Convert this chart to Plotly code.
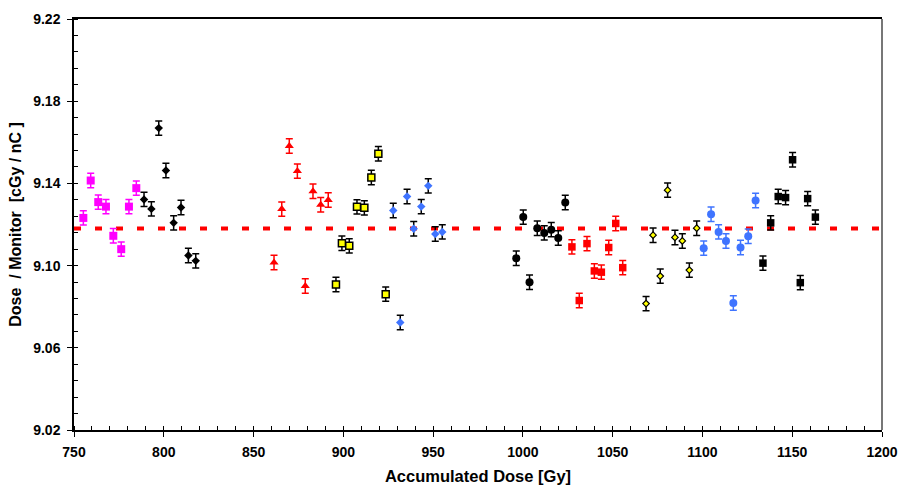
import plotly.graph_objects as go

# Accumulated dose [Gy] and dose/monitor ratio [cGy/nC] for each measurement run
mag_sq_x = [755.2, 759.3, 763.5, 767.8, 771.9, 776.3, 780.6, 784.7]
mag_sq_y = [9.1232, 9.1414, 9.1309, 9.1287, 9.1145, 9.1080, 9.1287, 9.1377]

blk_dia_x = [789.0, 793.1, 797.2, 801.2, 805.5, 809.6, 813.7, 817.8]
blk_dia_y = [9.1322, 9.1276, 9.1669, 9.1463, 9.1208, 9.1283, 9.1049, 9.1023]

red_tri_x = [861.4, 865.7, 869.9, 874.4, 878.8, 883.1, 887.4, 891.6]
red_tri_y = [9.1015, 9.1275, 9.1582, 9.1460, 9.0901, 9.1362, 9.1296, 9.1319]

yel_sq_x = [895.9, 899.2, 903.3, 907.6, 911.7, 915.6, 919.5, 923.6]
yel_sq_y = [9.0908, 9.1109, 9.1096, 9.1286, 9.1281, 9.1429, 9.1544, 9.0861]

blu_dia_x = [927.8, 931.7, 935.5, 939.2, 943.4, 947.3, 951.2, 955.1]
blu_dia_y = [9.1268, 9.0723, 9.1336, 9.1179, 9.1287, 9.1388, 9.1154, 9.1164]

blk_cir_x = [996.3, 1000.2, 1003.7, 1008.0, 1011.9, 1015.8, 1019.7, 1023.6]
blk_cir_y = [9.1036, 9.1236, 9.0919, 9.1182, 9.1159, 9.1175, 9.1134, 9.1307]

red_sq_x = [1027.3, 1031.4, 1035.7, 1039.8, 1043.7, 1047.8, 1051.7, 1055.6]
red_sq_y = [9.1091, 9.0830, 9.1107, 9.0974, 9.0968, 9.1088, 9.1205, 9.0990]

yel_dia_x = [1068.6, 1072.5, 1076.5, 1080.6, 1084.7, 1088.8, 1092.7, 1096.8]
yel_dia_y = [9.0815, 9.1148, 9.0949, 9.1367, 9.1137, 9.1120, 9.0978, 9.1182]

blu_cir_x = [1100.7, 1104.8, 1109.0, 1113.1, 1117.2, 1121.2, 1125.5, 1129.6]
blu_cir_y = [9.1085, 9.1250, 9.1164, 9.1120, 9.0818, 9.1088, 9.1143, 9.1317]

blk_sq_x = [1133.7, 1138.0, 1142.2, 1146.3, 1150.2, 1154.5, 1158.6, 1162.9]
blk_sq_y = [9.1012, 9.1208, 9.1336, 9.1331, 9.1515, 9.0917, 9.1326, 9.1236]

# Uncertainty of each ratio
ratio_err = [0.0035] * 8

# Mean dose/monitor ratio
mean_ratio = 9.118
mean_x = [750, 1200]

BLUE = "#3f74ff"

series = [
    (mag_sq_x, mag_sq_y, dict(symbol="square", size=8, color="#ff00ff"), "#ff00ff"),
    (blk_dia_x, blk_dia_y, dict(symbol="diamond", size=6.5, color="black"), "black"),
    (red_tri_x, red_tri_y, dict(symbol="triangle-up", size=8, color="#ff0000"), "#ff0000"),
    (yel_sq_x, yel_sq_y, dict(symbol="square", size=7,
                              color="#ffff00", line=dict(color="black", width=1.5)), "black"),
    (blu_dia_x, blu_dia_y, dict(symbol="diamond", size=6.5, color=BLUE), "black"),
    (blk_cir_x, blk_cir_y, dict(symbol="circle", size=8, color="black"), "black"),
    (red_sq_x, red_sq_y, dict(symbol="square", size=7.5, color="#ff0000"), "#ff0000"),
    (yel_dia_x, yel_dia_y, dict(symbol="diamond", size=5,
                                color="#ffff00", line=dict(color="black", width=1.2)), "black"),
    (blu_cir_x, blu_cir_y, dict(symbol="circle", size=8, color=BLUE), BLUE),
    (blk_sq_x, blk_sq_y, dict(symbol="square", size=7.5, color="black"), "black"),
]

fig = go.Figure()

fig.add_trace(go.Scatter(
    x=mean_x, y=[mean_ratio] * len(mean_x), mode="lines",
    line=dict(color="#ff0000", width=4, dash="7px,14px"),
    hoverinfo="skip",
))

for xs, ys, marker, ecol in series:
    fig.add_trace(go.Scatter(
        x=xs, y=ys, mode="markers", marker=marker,
        error_y=dict(type="data", array=ratio_err, visible=True,
                     color=ecol, thickness=1.5, width=3.5),
    ))

FONT = "Liberation Sans, Arial, sans-serif"

fig.update_layout(
    width=899, height=486,
    margin=dict(l=74, r=17, t=19, b=56),
    paper_bgcolor="white", plot_bgcolor="white",
    showlegend=False,
    font=dict(family=FONT, color="black"),
    xaxis=dict(
        range=[750, 1200], tickvals=[750, 800, 850, 900, 950, 1000, 1050, 1100, 1150, 1200],
        showgrid=False, zeroline=False, automargin=False,
        showline=True, linecolor="black", linewidth=1.5, mirror=True,
        ticks="outside", ticklen=5, tickwidth=1, tickcolor="black", ticklabelstandoff=3,
        minor=dict(dtick=10, tick0=750, ticks="inside", ticklen=4, tickcolor="black", showgrid=False),
        tickfont=dict(family=FONT, size=14, color="black", weight="bold"),
        title=dict(text="<b>Accumulated Dose [Gy]</b>", font=dict(family=FONT, size=16.5), standoff=12),
    ),
    yaxis=dict(
        range=[9.02, 9.22], tickvals=[9.02, 9.06, 9.10, 9.14, 9.18, 9.22],
        ticktext=["9.02", "9.06", "9.10", "9.14", "9.18", "9.22"],
        showgrid=False, zeroline=False, automargin=False,
        showline=True, linecolor="black", linewidth=1.5,
        ticks="outside", ticklen=5, tickwidth=1, tickcolor="black", ticklabelstandoff=4,
        minor=dict(dtick=0.008, tick0=9.02, ticks="inside", ticklen=4, tickcolor="black", showgrid=False),
        tickfont=dict(family=FONT, size=14, color="black", weight="bold"),
        title=dict(text="<b>Dose &nbsp;/ Monitor &nbsp;[cGy / nC ]</b>",
                   font=dict(family=FONT, size=16), standoff=8),
    ),
    shapes=[dict(type="line", xref="paper", yref="paper", x0=1, x1=1, y0=0, y1=1,
                 line=dict(color="#777777", width=2))],
)

fig.write_html("out.html")
